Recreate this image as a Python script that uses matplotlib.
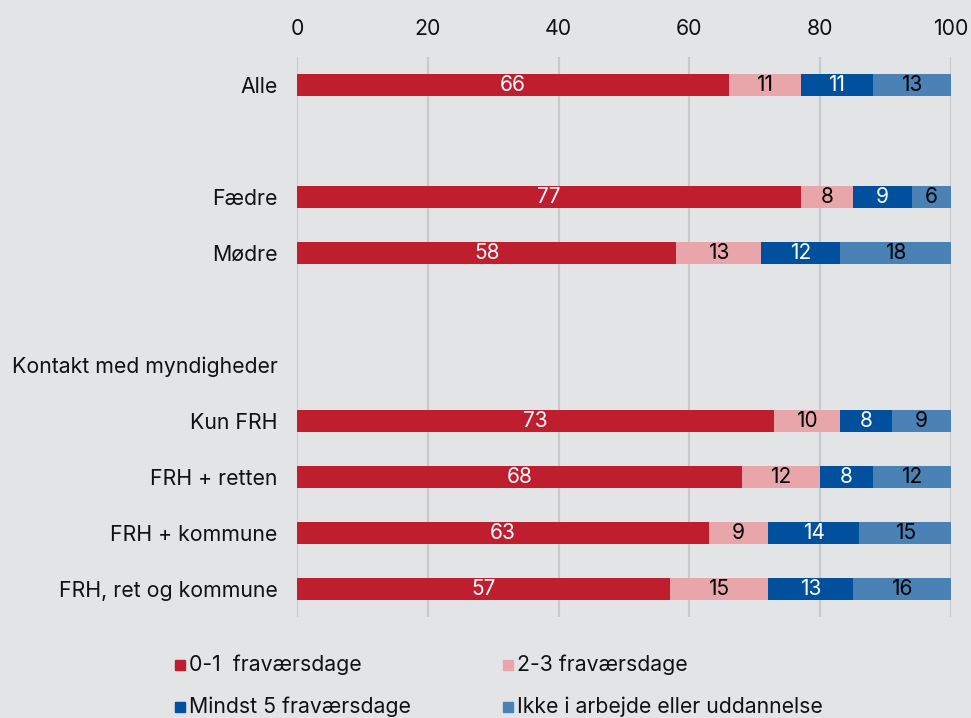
import matplotlib
matplotlib.use("Agg")
import matplotlib.pyplot as plt
from matplotlib.patches import Rectangle

plt.rcParams["font.family"] = ["Inter", "DejaVu Sans"]

categories = ["Alle", "", "Fædre", "Mødre", "", "Kontakt med myndigheder",
              "Kun FRH", "FRH + retten", "FRH + kommune", "FRH, ret og kommune"]
series_names = ["0-1  fraværsdage", "2-3 fraværsdage",
                "Mindst 5 fraværsdage", "Ikke i arbejde eller uddannelse"]
days_0_1 = [66, None, 77, 58, None, None, 73, 68, 63, 57]
days_2_3 = [11, None, 8, 13, None, None, 10, 12, 9, 15]
days_5_plus = [11, None, 9, 12, None, None, 8, 8, 14, 13]
not_working = [13, None, 6, 18, None, None, 9, 12, 15, 16]
x_ticks = [0, 20, 40, 60, 80, 100]

colors = ["#BE1E2D", "#E8A5AA", "#00509E", "#4A82B6"]
text_colors = ["white", "black", "white", "black"]
bg = "#E3E4E6"

fig = plt.figure(figsize=(9.71, 7.18), dpi=100, facecolor=bg)
ax = fig.add_axes([297 / 971, 1 - 617 / 718, 654 / 971, 560 / 718])
ax.set_facecolor(bg)

series = [days_0_1, days_2_3, days_5_plus, not_working]
for i in range(len(categories)):
    left = 0
    for s, col, tcol in zip(series, colors, text_colors):
        v = s[i]
        if v is None:
            continue
        ax.barh(i, v, left=left, height=0.41, color=col, zorder=3)
        right = min(left + v, 100)
        ax.text((left + right) / 2, i, f"{v}", ha="center", va="center",
                color=tcol, fontsize=15, zorder=4)
        left += v

ax.set_xlim(0, 100)
ax.set_ylim(9.5, -0.5)
ax.set_yticks(range(len(categories)))
ax.set_yticklabels(categories, fontsize=15.3, color="#111111")
ax.set_xticks(x_ticks)
ax.set_xticklabels([str(t) for t in x_ticks], fontsize=15.3, color="#111111")
ax.xaxis.tick_top()
ax.tick_params(axis="x", length=0, pad=13)
ax.tick_params(axis="y", length=0, pad=14)
for sp in ax.spines.values():
    sp.set_visible(False)
ax.grid(axis="x", color="#C8C9CB", linewidth=1.6, zorder=0)
ax.set_axisbelow(True)

# legend drawn as squares with labels in two columns
leg_pos = [(175, 665), (503, 665), (175, 707), (503, 707)]
for (px, py), name, col in zip(leg_pos, series_names, colors):
    fig.add_artist(Rectangle((px / 971, 1 - (py + 5) / 718), 10 / 971, 10 / 718,
                             transform=fig.transFigure, color=col))
    fig.text((px + 14) / 971, 1 - py / 718, name, ha="left", va="center",
             fontsize=15.3, color="#111111")

fig.savefig("out.png", dpi=100, facecolor=bg)
